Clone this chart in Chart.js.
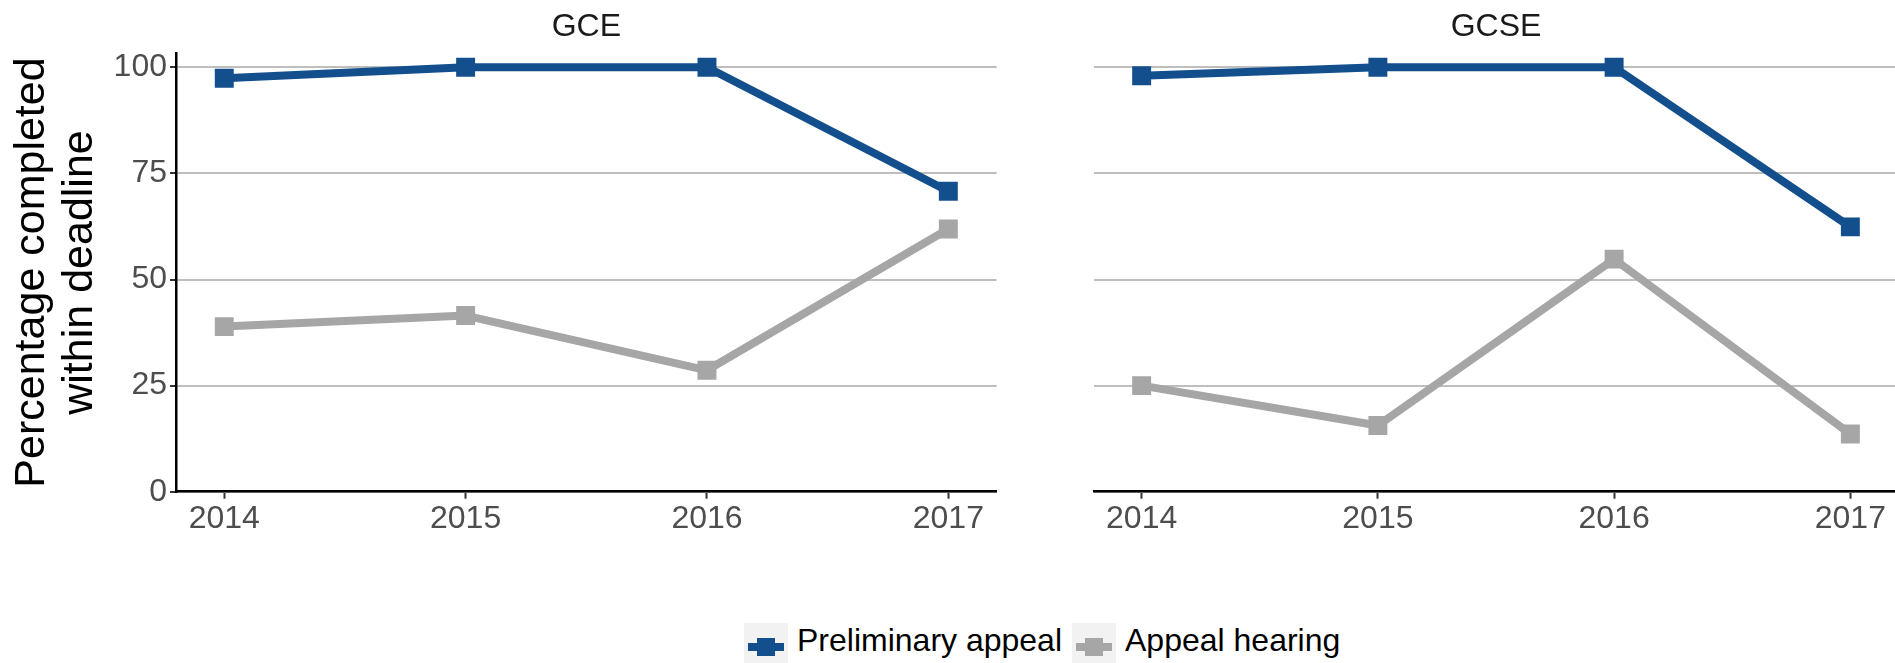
<!DOCTYPE html>
<html>
<head>
<meta charset="utf-8">
<script src="https://cdn.jsdelivr.net/npm/chart.js@4/dist/chart.umd.min.js"></script>
<style>
  body { margin: 0; width: 1895px; height: 663px; overflow: hidden; background: #fff; position: relative; font-family: "Liberation Sans", Arial, sans-serif; }
  canvas { position: absolute; top: 0; }
  #gce { left: 0; }
  #gcse { left: 1081px; }
  #legend { position: absolute; left: 744px; top: 623px; display: flex; align-items: flex-start; }
  .item { display: flex; align-items: flex-start; margin-right: 10px; }
  .swatch { position: relative; width: 44px; height: 48px; background: #f2f2f2; }
  .swatch .ln { position: absolute; left: 4px; top: 20px; width: 36px; height: 8px; }
  .swatch .sq { position: absolute; left: 13px; top: 15px; width: 18px; height: 18px; }
  .txt { font-size: 32px; line-height: 48px; margin-top: -7px; margin-left: 9px; color: #000; white-space: nowrap; }
</style>
</head>
<body>
<canvas id="gce" width="1010" height="560"></canvas>
<canvas id="gcse" width="830" height="560"></canvas>
<div id="legend"></div>
<script>
// data
const years = [2014, 2015, 2016, 2017];
const seriesNames = ['Preliminary appeal', 'Appeal hearing'];
const seriesColors = ['#134f8c', '#a6a6a6'];
const gcePrelim = [97.4, 100, 100, 70.8];
const gceHearing = [38.9, 41.5, 28.6, 61.9];
const gcsePrelim = [98.0, 100, 100, 62.4];
const gcseHearing = [25.0, 15.6, 54.8, 13.6];
const yTicks = [0, 25, 50, 75, 100];

const FONT = '"Liberation Sans", Arial, sans-serif';

function toPoints(vals) {
    return vals.map((v, i) => ({ x: years[i], y: v }));
}

function makeDatasets(prelim, hearing) {
    return [prelim, hearing].map((vals, i) => ({
        label: seriesNames[i],
        data: toPoints(vals),
        borderColor: seriesColors[i],
        backgroundColor: seriesColors[i],
        borderWidth: 8,
        borderJoinStyle: 'round',
        pointStyle: 'rect',
        pointRadius: 13.4,
        pointBorderWidth: 0,
        pointBackgroundColor: seriesColors[i],
        tension: 0,
    }));
}

function makeChart(id, title, prelim, hearing, showY) {
    const ctx = document.getElementById(id);
    return new Chart(ctx, {
        type: 'line',
        data: { datasets: makeDatasets(prelim, hearing) },
        options: {
            responsive: false,
            animation: false,
            layout: { padding: { left: 0, right: showY ? 7 : 3, top: 0, bottom: 0 } },
            plugins: {
                legend: { display: false },
                tooltip: { enabled: false },
                title: {
                    display: true,
                    text: title,
                    fullSize: false,
                    color: '#1a1a1a',
                    font: { family: FONT, size: 32, weight: 'normal' },
                    padding: { top: 7.8, bottom: 7.1 },
                },
            },
            scales: {
                x: {
                    type: 'linear',
                    min: 2013.8,
                    max: 2017.2,
                    afterBuildTicks: (s) => { s.ticks = years.map((v) => ({ value: v })); },
                    afterFit: (s) => { s.height = 68.3; },
                    ticks: {
                        color: '#4d4d4d',
                        font: { family: FONT, size: 32 },
                        padding: 1,
                        callback: (v) => String(v),
                    },
                    grid: {
                        drawOnChartArea: false,
                        drawTicks: true,
                        tickLength: 7,
                        tickColor: '#333333',
                        tickWidth: 2,
                    },
                    border: { display: true, color: '#000000', width: 2.5 },
                },
                y: {
                    min: 0,
                    max: 103.3,
                    afterBuildTicks: (s) => { s.ticks = yTicks.map((v) => ({ value: v })); },
                    afterFit: (s) => { s.width = showY ? 176 : 0; },
                    ticks: {
                        display: showY,
                        color: '#4d4d4d',
                        font: { family: FONT, size: 32 },
                        padding: 3,
                    },
                    grid: {
                        color: '#bebebe',
                        lineWidth: 2,
                        drawTicks: showY,
                        tickLength: 6,
                        tickColor: '#333333',
                        tickWidth: 2,
                    },
                    border: { display: showY, color: '#000000', width: 2.5 },
                    title: {
                        display: showY,
                        text: ['Percentage completed', 'within deadline'],
                        color: '#000000',
                        font: { family: FONT, size: 43, lineHeight: 48 / 43 },
                        padding: { top: 8, bottom: 0 },
                    },
                },
            },
        },
    });
}

makeChart('gce', 'GCE', gcePrelim, gceHearing, true);
makeChart('gcse', 'GCSE', gcsePrelim, gcseHearing, false);

// legend built from the series names and colours
const legend = document.getElementById('legend');
seriesNames.forEach((name, i) => {
    const item = document.createElement('div');
    item.className = 'item';
    item.innerHTML =
        '<div class="swatch"><div class="ln" style="background:' + seriesColors[i] + '"></div>' +
        '<div class="sq" style="background:' + seriesColors[i] + '"></div></div>' +
        '<span class="txt">' + name + '</span>';
    legend.appendChild(item);
});
</script>
</body>
</html>
